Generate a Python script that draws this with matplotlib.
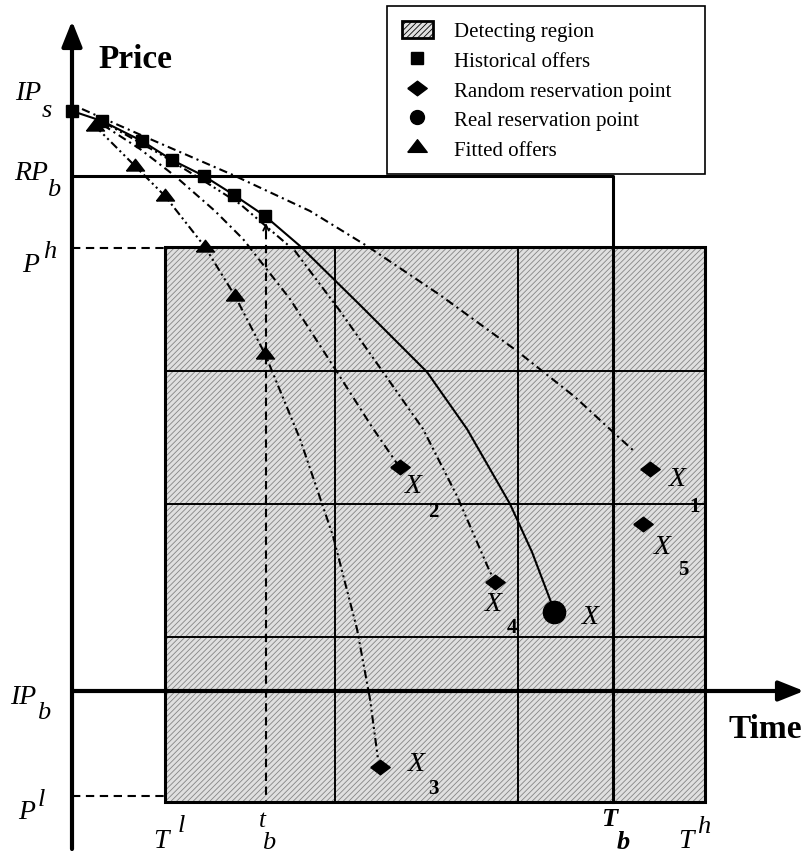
import matplotlib
matplotlib.use("Agg")
import matplotlib.pyplot as plt
from matplotlib.patches import Rectangle, Patch
from matplotlib.lines import Line2D

plt.rcParams['font.family'] = ['Liberation Serif', 'DejaVu Serif']
plt.rcParams['hatch.linewidth'] = 0.6
plt.rcParams['lines.scale_dashes'] = False

# ---- diagram data (time, price) in drawing units ----
hist_t = [72, 102, 142, 172, 204, 234, 265]
hist_p = [112, 122, 142, 161, 177, 196, 217]

fit_t = [95, 135, 165, 205, 235, 265]
fit_p = [127, 167, 197, 248, 297, 355]

real_path_t = [265, 300, 360, 427, 467, 510, 532, 554]
real_path_p = [217, 247, 306, 373, 430, 505, 553, 611]

x1_path_t = [82, 150, 233, 310, 367, 440, 517, 575, 613, 635]
x1_path_p = [110, 140, 176, 212, 247, 296, 352, 398, 433, 453]

x2_path_t = [103, 140, 175, 215, 243, 290, 337, 372, 398]
x2_path_p = [126, 150, 177, 212, 240, 300, 373, 428, 466]

x4_path_t = [105, 160, 204, 240, 295, 340, 383, 423, 457, 490, 495]
x4_path_p = [124, 155, 182, 205, 252, 312, 373, 430, 497, 573, 582]

x3_path_t = fit_t + [300, 333, 357, 370, 378]
x3_path_p = fit_p + [440, 537, 630, 700, 760]

rand_t = [650, 400, 380, 495, 643]
rand_p = [470, 468, 768, 583, 525]
rand_names = ['1', '2', '3', '4', '5']

real_t = [554]
real_p = [613]

# axis reference values
axis_t0 = 72
axis_p0 = 692
T_l, t_b, T_b, T_h = 165, 266, 613, 705
P_h, P_l, RP_b = 248, 803, 177
grid_t = [335, 518]
grid_p = [372, 505, 638]

legend_labels = ['Detecting region', 'Historical offers', 'Random reservation point',
                 'Real reservation point', 'Fitted offers']

fig = plt.figure(figsize=(8.05, 8.54), dpi=100)
ax = fig.add_axes([0, 0, 1, 1])
ax.set_xlim(0, 805)
ax.set_ylim(854, 0)
ax.axis('off')

# detecting region
ax.add_patch(Rectangle((T_l, P_h), T_h - T_l, P_l - P_h, facecolor='#e0e0e0',
                       edgecolor='#858585', hatch='//////', linewidth=0, zorder=1))
ax.add_patch(Rectangle((T_l, P_h), T_h - T_l, P_l - P_h, fill=False,
                       edgecolor='black', linewidth=2.2, zorder=3))
for gt in grid_t:
    ax.plot([gt, gt], [P_h, P_l], color='black', lw=1.4, zorder=2)
for gp in grid_p:
    ax.plot([T_l, T_h], [gp, gp], color='black', lw=1.4, zorder=2)

# RP_b box and T_b line
ax.plot([axis_t0, T_b, T_b], [RP_b, RP_b, P_l], color='black', lw=2.2, zorder=3)

# dashed guides
ax.plot([axis_t0, T_l], [P_h + 1, P_h + 1], color='black', lw=1.5, dashes=[6, 4], zorder=3)
ax.plot([axis_t0, T_l], [P_l - 6, P_l - 6], color='black', lw=1.5, dashes=[6, 4], zorder=3)
ax.plot([t_b, t_b], [232, P_l], color='black', lw=1.5, dashes=[6, 4], zorder=3)
ax.annotate('', xy=(t_b, 224), xytext=(t_b, 236),
            arrowprops=dict(arrowstyle='->', lw=1.3, color='black',
                            shrinkA=0, shrinkB=0, mutation_scale=10), zorder=3)

# axes with arrows
ax.annotate('', xy=(axis_t0, 22), xytext=(axis_t0, 850),
            arrowprops=dict(arrowstyle='-|>,head_length=0.55,head_width=0.22', lw=3,
                            color='black', shrinkA=0, shrinkB=0, mutation_scale=28), zorder=5)
ax.annotate('', xy=(804, axis_p0), xytext=(axis_t0, axis_p0),
            arrowprops=dict(arrowstyle='-|>,head_length=0.55,head_width=0.22', lw=3,
                            color='black', shrinkA=0, shrinkB=0, mutation_scale=28), zorder=5)

# curves
dashdot = [6, 3, 1.5, 3]
dashdotdot = [6, 2.5, 1.5, 2.5, 1.5, 2.5]
ax.plot(hist_t + real_path_t[1:], hist_p + real_path_p[1:], color='black', lw=1.5, zorder=4)
ax.plot(x1_path_t, x1_path_p, color='black', lw=1.5, dashes=dashdot, zorder=4)
ax.plot(x2_path_t, x2_path_p, color='black', lw=1.5, dashes=dashdot, zorder=4)
ax.plot(x4_path_t, x4_path_p, color='black', lw=1.5, dashes=dashdotdot, zorder=4)
ax.plot(x3_path_t, x3_path_p, color='black', lw=1.5, dashes=dashdotdot, zorder=4)

# markers
diamond = [(-1, 0), (0, 0.75), (1, 0), (0, -0.75), (-1, 0)]
flat_tri = [(-1, -0.5), (1, -0.5), (0, 0.8), (-1, -0.5)]
ax.plot(hist_t, hist_p, ls='none', marker='s', ms=9, color='black', zorder=6)
ax.plot(fit_t, fit_p, ls='none', marker=flat_tri, ms=13, color='black', zorder=6)
ax.plot(rand_t, rand_p, ls='none', marker=diamond, ms=14, color='black', zorder=6)
ax.plot(real_t, real_p, ls='none', marker='o', ms=16, color='black', zorder=6)

# point labels
ital = dict(style='italic', fontsize=20, ha='center', va='center', zorder=7)
sub = dict(fontsize=15, fontweight='bold', ha='center', va='center', zorder=7)
lab_offsets = {'1': (27, 10, 45, 37), '2': (13, 19, 33, 44), '3': (36, -3, 53, 21),
               '4': (-2, 22, 17, 45), '5': (19, 23, 40, 45)}
for t, p, n in zip(rand_t, rand_p, rand_names):
    dx, dy, sx, sy = lab_offsets[n]
    ax.text(t + dx, p + dy, 'X', **ital)
    ax.text(t + sx, p + sy, n, **sub)
ax.text(real_t[0] + 36, real_p[0] + 5, 'X', **ital)

# axis labels
ax.text(135, 60, 'Price', fontsize=24, fontweight='bold', ha='center', va='center')
ax.text(765, 730, 'Time', fontsize=24, fontweight='bold', ha='center', va='center')

lbl = dict(style='italic', fontsize=20, ha='center', va='baseline')
lbs = dict(style='italic', fontsize=19, ha='center', va='baseline')
ax.text(28, 100, 'IP', **lbl); ax.text(47, 117, 's', **lbs)
ax.text(31, 180, 'RP', **lbl); ax.text(54, 196, 'b', **lbs)
ax.text(31, 272, 'P', **lbl); ax.text(50, 258, 'h', **lbs)
ax.text(23, 704, 'IP', **lbl); ax.text(44, 719, 'b', **lbs)
ax.text(27, 819, 'P', **lbl); ax.text(41, 806, 'l', **lbs)
ax.text(161, 848, 'T', **lbl); ax.text(181, 832, 'l', **lbs)
ax.text(262, 827, 't', style='italic', fontsize=18, ha='center', va='baseline')
ax.text(269, 849, 'b', **lbs)
ax.text(609, 826, 'T', style='italic', fontweight='bold', fontsize=19, ha='center', va='baseline')
ax.text(623, 849, 'b', style='italic', fontweight='bold', fontsize=19, ha='center', va='baseline')
ax.text(686, 848, 'T', **lbl); ax.text(704, 833, 'h', **lbs)

# legend
handles = [
    Patch(facecolor='#e0e0e0', edgecolor='black', hatch='//////', linewidth=2),
    Line2D([], [], ls='none', marker='s', ms=8, color='black'),
    Line2D([], [], ls='none', marker=diamond, ms=14, color='black'),
    Line2D([], [], ls='none', marker='o', ms=10, color='black'),
    Line2D([], [], ls='none', marker=flat_tri, ms=14, color='black'),
]
leg = ax.legend(handles, legend_labels, loc='upper left',
                bbox_to_anchor=(387 / 805, 1 - 7 / 854, (705 - 387) / 805, 0),
                mode='expand', borderaxespad=0, fancybox=False, framealpha=1,
                edgecolor='black', fontsize=15, handlelength=1.5, handleheight=0.9,
                handletextpad=1.0, labelspacing=0.42, borderpad=0.7)
leg.get_frame().set_linewidth(1.2)

fig.savefig('out.png', dpi=100)
